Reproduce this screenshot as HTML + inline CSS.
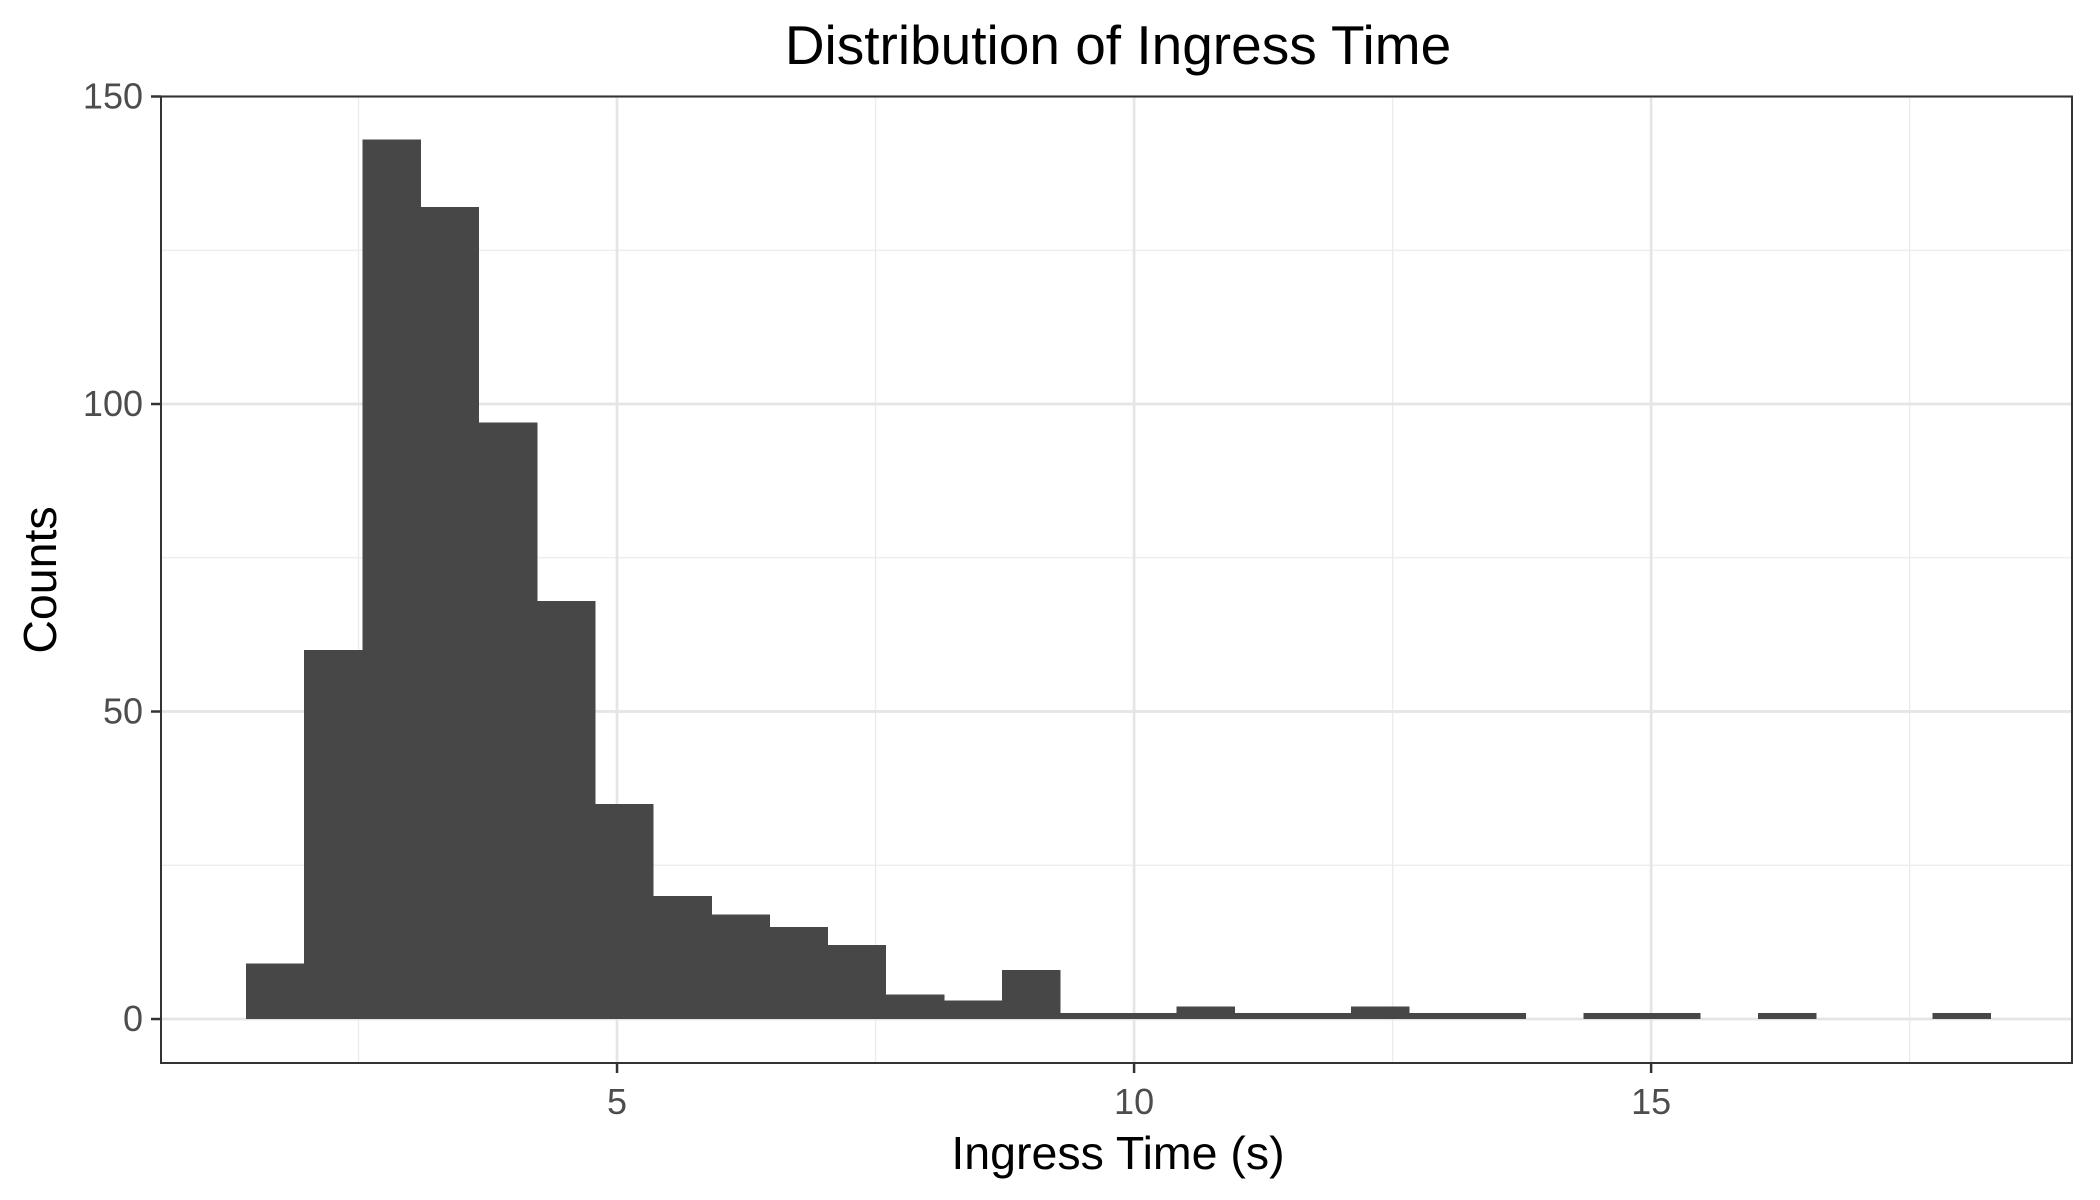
<!DOCTYPE html>
<html><head><meta charset="utf-8"><style>
html,body{margin:0;padding:0;background:#fff;}
svg{display:block;font-family:"Liberation Sans",Arial,sans-serif;}
</style></head><body>
<svg id="chart" width="2100" height="1200">
<text x="1118" y="64" font-size="55" text-anchor="middle" fill="#000">Distribution of Ingress Time</text>
<text x="1118" y="1169" font-size="46.5" text-anchor="middle" fill="#000">Ingress Time (s)</text>
<text transform="translate(56,580) rotate(-90)" font-size="46.5" text-anchor="middle" fill="#000">Counts</text>
<g id="grid"></g><g id="bars" shape-rendering="crispEdges"></g><g id="axes"></g>
</svg>
<script>
const binStart = 1.412;
const binWidth = 0.5623;
const counts = [9,60,143,132,97,68,35,20,17,15,12,4,3,8,1,1,2,1,1,2,1,1,0,1,1,0,1,0,0,1];
const xTicks = [5,10,15];
const xMinor = [2.5,7.5,12.5,17.5];
const yTicks = [0,50,100,150];
const yMinor = [25,75,125];
const L=161,R=2072,T=96.5,B=1063;
const xMin=0.59,xMax=19.07,yMin=-7.15,yMax=150;
const X=v=>L+(v-xMin)/(xMax-xMin)*(R-L);
const Y=v=>B-(v-yMin)/(yMax-yMin)*(B-T);
const NS="http://www.w3.org/2000/svg";
function mk(tag,attrs,parent){const e=document.createElementNS(NS,tag);for(const k in attrs)e.setAttribute(k,attrs[k]);document.getElementById(parent).appendChild(e);return e;}
xMinor.forEach(v=>{const e=mk('line',{x1:X(v),x2:X(v),y1:T,y2:B,stroke:'#ebebeb','stroke-width':1.3},'grid');

});
yMinor.forEach(v=>{const e=mk('line',{x1:L,x2:R,y1:Y(v),y2:Y(v),stroke:'#ebebeb','stroke-width':1.3},'grid');

});
xTicks.forEach(v=>{const e=mk('line',{x1:X(v),x2:X(v),y1:T,y2:B,stroke:'#e5e5e5','stroke-width':2.7},'grid');

});
yTicks.forEach(v=>{const e=mk('line',{x1:L,x2:R,y1:Y(v),y2:Y(v),stroke:'#e5e5e5','stroke-width':2.7},'grid');

});
counts.forEach((c,i)=>{if(c<=0)return;const x0=binStart+i*binWidth;
const e=mk('rect',{x:X(x0),y:Y(c),width:X(x0+binWidth)-X(x0)+0.6,height:Y(0)-Y(c),fill:'#474747'},'bars');

});
const f=mk('rect',{x:L,y:T,width:R-L,height:B-T,fill:'none',stroke:'#333','stroke-width':2},'axes');


xTicks.forEach(v=>{mk('line',{x1:X(v),x2:X(v),y1:B,y2:B+10,stroke:'#333','stroke-width':2.5},'axes');
const t=mk('text',{x:X(v),y:B+51,'font-size':36,'text-anchor':'middle',fill:'#4d4d4d'},'axes');t.textContent=v;

});
yTicks.forEach(v=>{mk('line',{x1:L-10,x2:L,y1:Y(v),y2:Y(v),stroke:'#333','stroke-width':2.5},'axes');
const t=mk('text',{x:L-18,y:Y(v)+12,'font-size':36,'text-anchor':'end',fill:'#4d4d4d'},'axes');t.textContent=v;

});
</script>
</body></html>
